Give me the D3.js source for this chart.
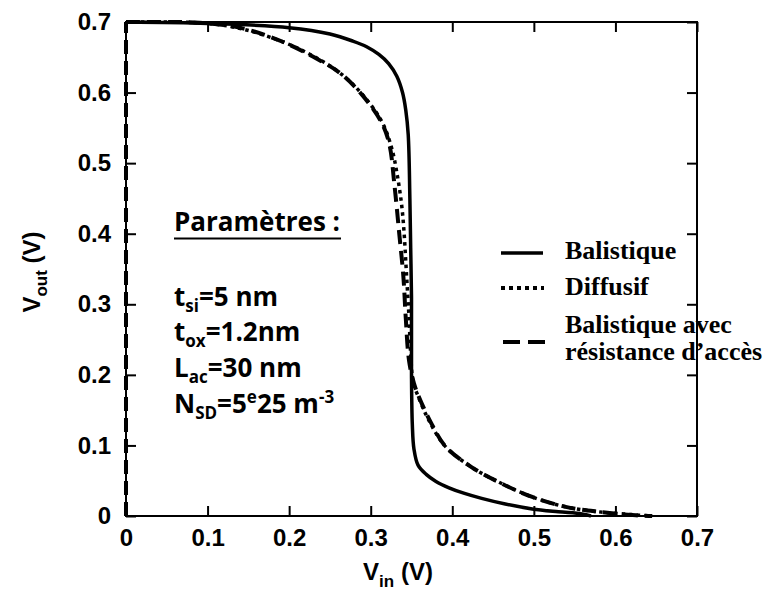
<!DOCTYPE html>
<html><head><meta charset="utf-8">
<script src="https://cdn.jsdelivr.net/npm/d3@7"></script>
<style>body{margin:0;background:#fff}svg{display:block}</style>
</head><body>
<svg id="c" width="769" height="593"></svg>
<script>
const xTicks = [0,0.1,0.2,0.3,0.4,0.5,0.6,0.7];
const yTicks = [0,0.1,0.2,0.3,0.4,0.5,0.6,0.7];
const xTickLabels = ["0","0.1","0.2","0.3","0.4","0.5","0.6","0.7"];
const yTickLabels = ["0","0.1","0.2","0.3","0.4","0.5","0.6","0.7"];

const balistiqueVin  = [0,0.1,0.2,0.25,0.278,0.295,0.31,0.322,0.332,0.339,0.343,0.346,0.348,0.349,0.350,0.350,0.351,0.353,0.358,0.368,0.38,0.396,0.415,0.436,0.465,0.498,0.53,0.559,0.57];
const balistiqueVout = [0.7,0.698,0.692,0.683,0.673,0.665,0.654,0.641,0.623,0.6,0.575,0.54,0.45,0.38,0.31,0.2,0.13,0.095,0.072,0.059,0.049,0.040,0.032,0.025,0.017,0.010,0.006,0.003,0];

const diffusifVin  = [0,0.05,0.1,0.143,0.192,0.229,0.262,0.29,0.314,0.326,0.333,0.338,0.341,0.343,0.345,0.347,0.349,0.352,0.358,0.372,0.392,0.424,0.457,0.498,0.539,0.579,0.62,0.645];
const diffusifVout = [0.7,0.7,0.698,0.69,0.672,0.652,0.628,0.597,0.558,0.52,0.48,0.44,0.40,0.36,0.32,0.28,0.23,0.19,0.17,0.134,0.098,0.069,0.048,0.027,0.013,0.006,0.002,0];

const accesVin  = [0,0,0.05,0.09,0.143,0.192,0.229,0.262,0.29,0.314,0.323,0.329,0.335,0.340,0.343,0.347,0.353,0.359,0.374,0.392,0.424,0.457,0.498,0.539,0.579,0.625,0.645];
const accesVout = [0,0.7,0.7,0.699,0.691,0.672,0.651,0.628,0.596,0.556,0.526,0.47,0.40,0.34,0.28,0.22,0.188,0.169,0.132,0.098,0.069,0.048,0.027,0.013,0.006,0.001,0];

const seriesNames = ["Balistique","Diffusif","Balistique avec","résistance d\u2019accès"];

const svg = d3.select("#c");
const L=126, R=697, T=22, B=516;
const x = d3.scaleLinear().domain([0,0.7]).range([L,R]);
const y = d3.scaleLinear().domain([0,0.7]).range([B,T]);

const axisFont = "'Liberation Sans', Arial, sans-serif";

svg.append("rect").attr("x",L).attr("y",T).attr("width",R-L).attr("height",B-T)
  .attr("fill","none").attr("stroke","#000").attr("stroke-width",2);

function styleAxis(g){
  g.select(".domain").remove();
  g.selectAll(".tick line").attr("stroke","#000").attr("stroke-width",2);
}
const tl = 10;
svg.append("g").attr("transform",`translate(0,${B})`)
  .call(d3.axisBottom(x).tickValues(xTicks).tickSize(-tl).tickPadding(13).tickFormat((d,i)=>xTickLabels[i]))
  .call(styleAxis);
svg.append("g").attr("transform",`translate(0,${T})`)
  .call(d3.axisTop(x).tickValues(xTicks).tickSize(-tl).tickFormat(""))
  .call(styleAxis);
svg.append("g").attr("transform",`translate(${L},0)`)
  .call(d3.axisLeft(y).tickValues(yTicks).tickSize(-tl).tickPadding(15).tickFormat((d,i)=>yTickLabels[i]))
  .call(styleAxis);
svg.append("g").attr("transform",`translate(${R},0)`)
  .call(d3.axisRight(y).tickValues(yTicks).tickSize(-tl).tickFormat(""))
  .call(styleAxis);
svg.selectAll(".tick text").attr("font-family",axisFont).attr("font-weight","bold")
  .attr("font-size",24).attr("fill","#000");

const smooth = d3.line().x(d=>x(d[0])).y(d=>y(d[1])).curve(d3.curveCatmullRom.alpha(0.5));
const straight = d3.line().x(d=>x(d[0])).y(d=>y(d[1]));
const zip = (a,b)=>a.map((v,i)=>[v,b[i]]);
const acces = zip(accesVin,accesVout);
svg.append("path").datum(acces.slice(0,2)).attr("d",straight)
  .attr("fill","none").attr("stroke","#000").attr("stroke-width",4).attr("stroke-dasharray","14,7");
svg.append("path").datum(acces.slice(1)).attr("d",smooth)
  .attr("fill","none").attr("stroke","#000").attr("stroke-width",4).attr("stroke-dasharray","14,7");
svg.append("path").datum(zip(diffusifVin,diffusifVout)).attr("d",smooth)
  .attr("fill","none").attr("stroke","#000").attr("stroke-width",3.5).attr("stroke-dasharray","3.5,4");
svg.append("path").datum(zip(balistiqueVin,balistiqueVout)).attr("d",smooth)
  .attr("fill","none").attr("stroke","#000").attr("stroke-width",3.5).attr("stroke-linejoin","round");

const xt = svg.append("text").attr("x",398).attr("y",580).attr("text-anchor","middle")
  .attr("font-family",axisFont).attr("font-weight","bold").attr("font-size",24);
xt.append("tspan").text("V");
xt.append("tspan").attr("font-size",17).attr("dy",7).text("in");
xt.append("tspan").attr("dy",-7).text(" (V)");

const yt = svg.append("text").attr("transform","translate(40,272) rotate(-90)").attr("text-anchor","middle")
  .attr("font-family",axisFont).attr("font-weight","bold").attr("font-size",24);
yt.append("tspan").text("V");
yt.append("tspan").attr("font-size",17).attr("dy",7).text("out");
yt.append("tspan").attr("dy",-7).text(" (V)");

const pf = "'Open Sans', Lato, sans-serif";
const pg = svg.append("g").attr("font-family",pf).attr("font-weight","bold").attr("font-size",26).attr("fill","#000");
pg.append("text").attr("x",174).attr("y",231).text("Paramètres :");
pg.append("line").attr("x1",174).attr("x2",341).attr("y1",238.5).attr("y2",238.5).attr("stroke","#000").attr("stroke-width",2);
function sub(yy, a, s, b){
  const t = pg.append("text").attr("x",174).attr("y",yy);
  t.append("tspan").text(a);
  t.append("tspan").attr("font-size",17).attr("dy",6).text(s);
  t.append("tspan").attr("dy",-6).text(b);
  return t;
}
sub(306,"t","si","=5 nm");
sub(341,"t","ox","=1.2nm");
sub(377,"L","ac","=30 nm");
const nt = pg.append("text").attr("x",174).attr("y",413);
nt.append("tspan").text("N");
nt.append("tspan").attr("font-size",17).attr("dy",6).text("SD");
nt.append("tspan").attr("dy",-6).text("=5");
nt.append("tspan").attr("font-size",17).attr("dy",-10).text("e");
nt.append("tspan").attr("dy",10).text("25 m");
nt.append("tspan").attr("font-size",17).attr("dy",-10).text("-3");

const lf = "'Liberation Serif', 'Times New Roman', serif";
const lg = svg.append("g").attr("font-family",lf).attr("font-weight","bold").attr("font-size",26).attr("fill","#000");
lg.append("line").attr("x1",501).attr("x2",543).attr("y1",253).attr("y2",253).attr("stroke","#000").attr("stroke-width",3.5);
lg.append("line").attr("x1",501).attr("x2",544).attr("y1",288).attr("y2",288).attr("stroke","#000").attr("stroke-width",4).attr("stroke-dasharray","4,4");
lg.append("line").attr("x1",503).attr("x2",545).attr("y1",342).attr("y2",342).attr("stroke","#000").attr("stroke-width",4).attr("stroke-dasharray","17,8");
lg.append("text").attr("x",565).attr("y",259).text(seriesNames[0]);
lg.append("text").attr("x",565).attr("y",295).text(seriesNames[1]);
lg.append("text").attr("x",565).attr("y",333).text(seriesNames[2]);
lg.append("text").attr("x",565).attr("y",360).text(seriesNames[3]);
</script>
</body></html>
